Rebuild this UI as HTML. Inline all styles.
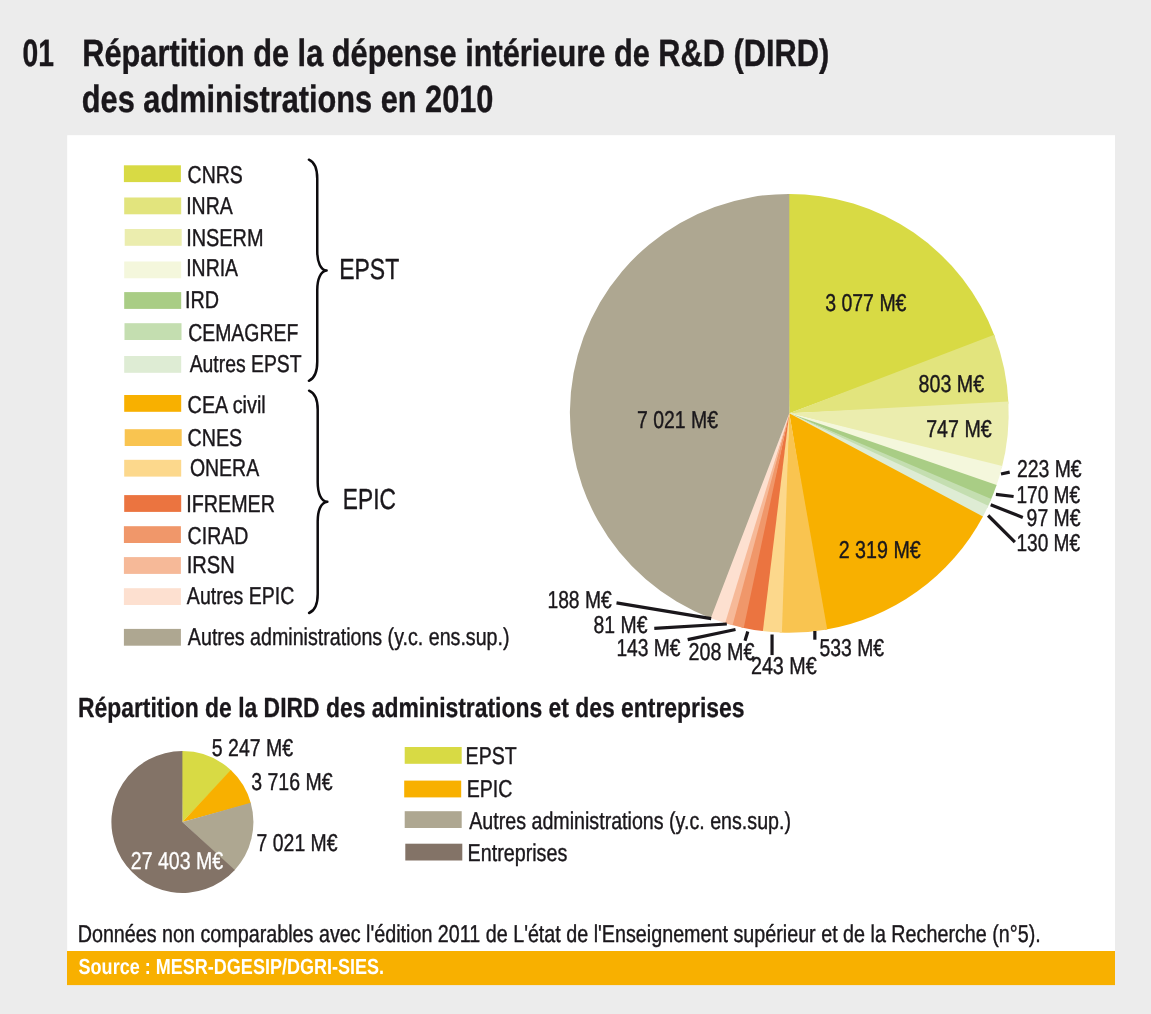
<!DOCTYPE html>
<html lang="fr"><head><meta charset="utf-8"><title>Répartition de la DIRD des administrations en 2010</title>
<style>html,body{margin:0;padding:0;background:#ececec}svg{display:block}text{text-rendering:geometricPrecision;stroke:#1a171b;stroke-width:0.4px;stroke-linejoin:round}</style></head>
<body>
<svg width="1151" height="1014" viewBox="0 0 1151 1014" font-family="'Liberation Sans', sans-serif" fill="#1a171b">
<rect x="0" y="0" width="1151" height="1014" fill="#ececec"/>
<rect x="67.2" y="135.2" width="1047.8" height="817" fill="#ffffff"/>
<rect x="67.0" y="951.0" width="1048" height="34.1" fill="#f8b000"/>
<text x="22.58" y="65.8" font-size="38.0" font-weight="bold" textLength="31.40" lengthAdjust="spacingAndGlyphs">01</text>
<text x="82.24" y="65.8" font-size="38.0" font-weight="bold" textLength="746.99" lengthAdjust="spacingAndGlyphs">Répartition de la dépense intérieure de R&amp;D (DIRD)</text>
<text x="81.84" y="112.0" font-size="38.0" font-weight="bold" textLength="411.62" lengthAdjust="spacingAndGlyphs">des administrations en 2010</text>
<rect x="123.9" y="165.3" width="57" height="16.8" fill="#d8da44"/>
<text x="187.61" y="182.8" font-size="24.4" textLength="55.18" lengthAdjust="spacingAndGlyphs">CNRS</text>
<rect x="124.2" y="197.5" width="57" height="16.8" fill="#e2e47d"/>
<text x="186.20" y="213.9" font-size="24.4" textLength="46.54" lengthAdjust="spacingAndGlyphs">INRA</text>
<rect x="124.7" y="229.0" width="57" height="16.8" fill="#ebedae"/>
<text x="186.16" y="246.1" font-size="24.4" textLength="77.37" lengthAdjust="spacingAndGlyphs">INSERM</text>
<rect x="124.2" y="261.5" width="57" height="16.8" fill="#f4f7dc"/>
<text x="186.21" y="276.4" font-size="24.4" textLength="51.83" lengthAdjust="spacingAndGlyphs">INRIA</text>
<rect x="124.2" y="292.1" width="57" height="16.8" fill="#a9cd85"/>
<text x="185.07" y="308.4" font-size="24.4" textLength="34.07" lengthAdjust="spacingAndGlyphs">IRD</text>
<rect x="124.5" y="323.2" width="57" height="16.8" fill="#c4deb0"/>
<text x="188.21" y="340.7" font-size="24.4" textLength="110.06" lengthAdjust="spacingAndGlyphs">CEMAGREF</text>
<rect x="124.2" y="356.0" width="57" height="16.8" fill="#deecd4"/>
<text x="189.66" y="372.4" font-size="24.4" textLength="111.88" lengthAdjust="spacingAndGlyphs">Autres EPST</text>
<rect x="124.2" y="395.0" width="57" height="16.8" fill="#f8b000"/>
<text x="187.61" y="413.0" font-size="24.4" textLength="78.10" lengthAdjust="spacingAndGlyphs">CEA civil</text>
<rect x="124.7" y="429.2" width="57" height="16.8" fill="#f9c450"/>
<text x="187.60" y="445.6" font-size="24.4" textLength="54.60" lengthAdjust="spacingAndGlyphs">CNES</text>
<rect x="124.2" y="459.8" width="57" height="16.8" fill="#fcd88c"/>
<text x="189.88" y="476.4" font-size="24.4" textLength="69.26" lengthAdjust="spacingAndGlyphs">ONERA</text>
<rect x="124.2" y="495.1" width="57" height="16.8" fill="#eb7440"/>
<text x="186.28" y="511.7" font-size="24.4" textLength="88.73" lengthAdjust="spacingAndGlyphs">IFREMER</text>
<rect x="123.9" y="526.2" width="57" height="16.8" fill="#f0976a"/>
<text x="187.61" y="543.7" font-size="24.4" textLength="60.73" lengthAdjust="spacingAndGlyphs">CIRAD</text>
<rect x="123.9" y="557.1" width="57" height="16.8" fill="#f6b998"/>
<text x="186.74" y="572.6" font-size="24.4" textLength="48.10" lengthAdjust="spacingAndGlyphs">IRSN</text>
<rect x="123.9" y="588.2" width="57" height="16.8" fill="#fde0d0"/>
<text x="186.86" y="603.7" font-size="24.4" textLength="107.48" lengthAdjust="spacingAndGlyphs">Autres EPIC</text>
<rect x="123.9" y="628.9" width="57" height="16.8" fill="#aea791"/>
<text x="187.86" y="645.0" font-size="24.4" textLength="321.65" lengthAdjust="spacingAndGlyphs">Autres administrations (y.c. ens.sup.)</text>
<path d="M308.9,159.7 C313.91,161.90 317.25,167.70 317.25,178.70 L317.25,251.10 C317.25,262.10 320.55,270.00 326.6,270.6 C320.55,271.20 317.25,279.10 317.25,290.10 L317.25,361.80 C317.25,372.80 313.91,378.60 308.9,380.8" fill="none" stroke="#0d0b0e" stroke-width="2.5" stroke-linecap="round" stroke-linejoin="round"/>
<path d="M309.1,390.7 C314.26,392.90 317.7,398.70 317.7,409.70 L317.7,482.30 C317.7,493.30 321.00,501.20 327.35,501.8 C321.00,502.40 317.7,510.30 317.7,521.30 L317.7,594.00 C317.7,605.00 314.26,610.80 309.1,613.0" fill="none" stroke="#0d0b0e" stroke-width="2.5" stroke-linecap="round" stroke-linejoin="round"/>
<text x="339.22" y="279.3" font-size="29.0" textLength="60.01" lengthAdjust="spacingAndGlyphs">EPST</text>
<text x="342.84" y="509.2" font-size="29.0" textLength="53.03" lengthAdjust="spacingAndGlyphs">EPIC</text>
<path d="M789.3,413.3 L787.00,193.91 A219.4,219.4 0 0 1 995.01,337.00 Z" fill="#d8da44"/>
<path d="M789.3,413.3 L994.20,334.85 A219.4,219.4 0 0 1 1008.49,403.69 Z" fill="#e2e47d"/>
<path d="M789.3,413.3 L1008.38,401.40 A219.4,219.4 0 0 1 1001.69,468.31 Z" fill="#ebedae"/>
<path d="M789.3,413.3 L1002.26,466.08 A219.4,219.4 0 0 1 995.86,487.26 Z" fill="#f4f7dc"/>
<path d="M789.3,413.3 L996.62,485.09 A219.4,219.4 0 0 1 990.41,501.00 Z" fill="#a9cd85"/>
<path d="M789.3,413.3 L991.32,498.89 A219.4,219.4 0 0 1 987.24,507.93 Z" fill="#c4deb0"/>
<path d="M789.3,413.3 L988.22,505.85 A219.4,219.4 0 0 1 981.84,518.49 Z" fill="#deecd4"/>
<path d="M789.3,413.3 L982.93,516.47 A219.4,219.4 0 0 1 824.94,629.79 Z" fill="#f8b000"/>
<path d="M789.3,413.3 L827.21,629.40 A219.4,219.4 0 0 1 779.62,632.49 Z" fill="#f9c450"/>
<path d="M789.3,413.3 L781.91,632.58 A219.4,219.4 0 0 1 760.59,630.81 Z" fill="#fcd88c"/>
<path d="M789.3,413.3 L762.87,631.10 A219.4,219.4 0 0 1 741.44,627.42 Z" fill="#eb7440"/>
<path d="M789.3,413.3 L743.68,627.91 A219.4,219.4 0 0 1 730.30,624.62 Z" fill="#f0976a"/>
<path d="M789.3,413.3 L732.52,625.22 A219.4,219.4 0 0 1 722.96,622.43 Z" fill="#f6b998"/>
<path d="M789.3,413.3 L725.15,623.11 A219.4,219.4 0 0 1 708.64,617.34 Z" fill="#fde0d0"/>
<path d="M789.3,413.3 L710.78,618.17 A219.4,219.4 0 0 1 789.30,193.90 Z" fill="#aea791"/>
<line x1="1001.0" y1="474.0" x2="1009.7" y2="472.1" stroke="#1a171b" stroke-width="3.2"/>
<line x1="995.9" y1="494.3" x2="1013.6" y2="496.5" stroke="#1a171b" stroke-width="3.2"/>
<line x1="990.7" y1="504.8" x2="1022.8" y2="517.4" stroke="#1a171b" stroke-width="3.2"/>
<line x1="988.1" y1="515.5" x2="1014.9" y2="542.1" stroke="#1a171b" stroke-width="3.2"/>
<line x1="616.5" y1="602.9" x2="711.2" y2="618.6" stroke="#1a171b" stroke-width="3.2"/>
<line x1="654.3" y1="628.3" x2="726.8" y2="624.0" stroke="#1a171b" stroke-width="3.2"/>
<line x1="687.7" y1="639.6" x2="735.5" y2="629.5" stroke="#1a171b" stroke-width="3.2"/>
<line x1="747.8" y1="631.5" x2="745.0" y2="640.7" stroke="#1a171b" stroke-width="3.2"/>
<line x1="772.05" y1="634.5" x2="772.05" y2="655.1" stroke="#1a171b" stroke-width="3.2"/>
<line x1="814.85" y1="631.0" x2="814.85" y2="639.7" stroke="#1a171b" stroke-width="3.2"/>
<text x="825.16" y="310.5" font-size="24.4" textLength="81.32" lengthAdjust="spacingAndGlyphs">3 077 M€</text>
<text x="918.55" y="391.7" font-size="24.4" textLength="65.53" lengthAdjust="spacingAndGlyphs">803 M€</text>
<text x="926.19" y="437.3" font-size="24.4" textLength="65.48" lengthAdjust="spacingAndGlyphs">747 M€</text>
<text x="1016.92" y="476.5" font-size="24.4" textLength="64.75" lengthAdjust="spacingAndGlyphs">223 M€</text>
<text x="1016.44" y="502.5" font-size="24.4" textLength="63.73" lengthAdjust="spacingAndGlyphs">170 M€</text>
<text x="1026.59" y="525.6" font-size="24.4" textLength="53.99" lengthAdjust="spacingAndGlyphs">97 M€</text>
<text x="1016.44" y="551.1" font-size="24.4" textLength="63.73" lengthAdjust="spacingAndGlyphs">130 M€</text>
<text x="838.71" y="558.1" font-size="24.4" textLength="82.07" lengthAdjust="spacingAndGlyphs">2 319 M€</text>
<text x="637.00" y="427.8" font-size="24.4" textLength="80.97" lengthAdjust="spacingAndGlyphs">7 021 M€</text>
<text x="547.43" y="608.3" font-size="24.4" textLength="64.24" lengthAdjust="spacingAndGlyphs">188 M€</text>
<text x="593.56" y="633.2" font-size="24.4" textLength="53.92" lengthAdjust="spacingAndGlyphs">81 M€</text>
<text x="616.44" y="656.1" font-size="24.4" textLength="64.03" lengthAdjust="spacingAndGlyphs">143 M€</text>
<text x="688.61" y="660.1" font-size="24.4" textLength="65.77" lengthAdjust="spacingAndGlyphs">208 M€</text>
<text x="750.91" y="674.4" font-size="24.4" textLength="65.87" lengthAdjust="spacingAndGlyphs">243 M€</text>
<text x="819.53" y="655.7" font-size="24.4" textLength="64.55" lengthAdjust="spacingAndGlyphs">533 M€</text>
<text x="77.92" y="716.7" font-size="27.7" font-weight="bold" style="stroke-width:0.3px;" textLength="666.57" lengthAdjust="spacingAndGlyphs">Répartition de la DIRD des administrations et des entreprises</text>
<path d="M182.4,822.0 L181.66,751.00 A71.0,71.0 0 0 1 231.36,770.58 Z" fill="#d8da44"/>
<path d="M182.4,822.0 L230.82,770.07 A71.0,71.0 0 0 1 250.92,803.38 Z" fill="#f8b000"/>
<path d="M182.4,822.0 L250.72,802.67 A71.0,71.0 0 0 1 234.33,870.42 Z" fill="#aea791"/>
<path d="M182.4,822.0 L234.83,869.88 A71.0,71.0 0 1 1 182.40,751.00 Z" fill="#837367"/>
<text x="211.82" y="756.1" font-size="24.4" textLength="81.26" lengthAdjust="spacingAndGlyphs">5 247 M€</text>
<text x="251.26" y="790.3" font-size="24.4" textLength="81.22" lengthAdjust="spacingAndGlyphs">3 716 M€</text>
<text x="256.60" y="851.0" font-size="24.4" textLength="80.97" lengthAdjust="spacingAndGlyphs">7 021 M€</text>
<text x="130.87" y="868.9" font-size="24.4" fill="#ffffff" style="stroke:#ffffff;stroke-width:0.3px;" textLength="92.26" lengthAdjust="spacingAndGlyphs">27 403 M€</text>
<rect x="404.7" y="747.0" width="57" height="16.8" fill="#d8da44"/>
<text x="465.59" y="764.2" font-size="24.4" textLength="51.16" lengthAdjust="spacingAndGlyphs">EPST</text>
<rect x="404.2" y="780.6" width="57" height="16.8" fill="#f8b000"/>
<text x="466.69" y="797.4" font-size="24.4" textLength="45.75" lengthAdjust="spacingAndGlyphs">EPIC</text>
<rect x="404.7" y="811.2" width="57" height="16.8" fill="#aea791"/>
<text x="469.26" y="828.6" font-size="24.4" textLength="321.75" lengthAdjust="spacingAndGlyphs">Autres administrations (y.c. ens.sup.)</text>
<rect x="405.3" y="843.7" width="57" height="16.8" fill="#837367"/>
<text x="467.58" y="861.1" font-size="24.4" textLength="99.73" lengthAdjust="spacingAndGlyphs">Entreprises</text>
<text x="77.68" y="941.9" font-size="24.4" textLength="963.01" lengthAdjust="spacingAndGlyphs">Données non comparables avec l'édition 2011 de L'état de l'Enseignement supérieur et de la Recherche (n°5).</text>
<text x="78.58" y="973.8" font-size="21.8" font-weight="bold" fill="#ffffff" style="stroke:#ffffff;stroke-width:0px;" textLength="305.56" lengthAdjust="spacingAndGlyphs">Source : MESR-DGESIP/DGRI-SIES.</text>
</svg>
</body></html>
